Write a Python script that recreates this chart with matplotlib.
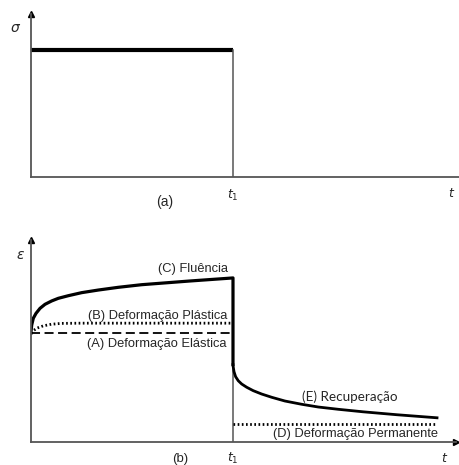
import matplotlib
matplotlib.use("Agg")
import matplotlib.pyplot as plt

# tempo normalizado (t1 = 1)
t1 = 1.0
t_end = 2.01

# (a) tensão aplicada
sigma0 = 1.0

# (b) deformação (unidade: deformação elástica = 1)
eps_A = 1.0
eps_B = 1.09
eps_D = 0.165

creep_t = [0.0, 0.0, 0.0035, 0.0114, 0.0248, 0.0446, 0.0693, 0.1025, 0.1351, 0.1847,
           0.251, 0.3332, 0.4322, 0.548, 0.787, 1.0, 1.0]
creep_e = [1.0, 1.012, 1.073, 1.135, 1.18, 1.226, 1.263, 1.294, 1.318, 1.342,
           1.37, 1.394, 1.419, 1.443, 1.477, 1.505, 0.71]

plast_t = [0.0, 0.01, 0.03, 0.06, 0.1, 0.15, 0.25, 1.0]
plast_e = [1.0, 1.02, 1.045, 1.065, 1.08, 1.088, 1.09, 1.09]

rec_t = [1.0, 1.001, 1.005, 1.013, 1.026, 1.043, 1.068, 1.1, 1.142, 1.192,
         1.257, 1.34, 1.422, 1.521, 1.644, 1.812, 2.01]
rec_e = [0.71, 0.691, 0.645, 0.599, 0.562, 0.532, 0.502, 0.471, 0.44, 0.41,
         0.376, 0.346, 0.321, 0.3, 0.277, 0.25, 0.222]

W, H = 459, 465
fig = plt.figure(figsize=(W / 100, H / 100), dpi=100)
fig.patch.set_facecolor("white")

axis_col = "#555555"
txt_col = "#262626"
lab_font = ["Liberation Sans", "DejaVu Sans"]


def px_axes(x0, y0, x1, y1):
    return fig.add_axes([x0 / W, 1 - y1 / H, (x1 - x0) / W, (y1 - y0) / H])


def style(ax, xarrow=True):
    for s in ["top", "right"]:
        ax.spines[s].set_visible(False)
    for s in ["left", "bottom"]:
        ax.spines[s].set_color(axis_col)
        ax.spines[s].set_linewidth(1.3)
    ax.set_xticks([])
    ax.set_yticks([])
    ax.patch.set_alpha(0)
    ax.plot([0], [1], marker="^", color="black", ms=5, transform=ax.transAxes, clip_on=False)
    if xarrow:
        ax.plot([1], [0], marker=">", color="black", ms=5, transform=ax.transAxes, clip_on=False)


# ---------- (a) ----------
ax1 = px_axes(31, 14, 459, 177)
ax1.set_xlim(0, 2.119)
ax1.set_ylim(0, 1.283)
style(ax1, xarrow=False)
ax1.plot([0, t1], [sigma0, sigma0], color="black", lw=3, solid_capstyle="butt")
ax1.plot([t1, t1], [0, sigma0], color=axis_col, lw=1.1)
ax1.text(-0.074, 1.175, r"$\sigma$", fontsize=10, color=txt_col, ha="center", va="center", clip_on=False)
ax1.text(t1, -0.142, r"$t_1$", fontsize=9, color=txt_col, ha="center", va="center")
ax1.text(0.663, -0.197, "(a)", fontsize=10, color=txt_col, ha="center", va="center", family=lab_font)
ax1.text(2.084, -0.126, r"$t$", fontsize=9, color=txt_col, ha="center", va="center")

# ---------- (b) ----------
ax2 = px_axes(31, 240, 456, 442)
ax2.set_xlim(0, 2.104)
ax2.set_ylim(0, 1.853)
style(ax2)
ax2.plot([t1, t1], [0, 1.50], color=axis_col, lw=1.1)
ax2.plot([0, t1], [eps_A, eps_A], color="black", lw=1.3, dashes=(5, 2.5))
ax2.plot(plast_t, plast_e, color="black", lw=2, linestyle=(0, (0.6, 0.9)))
ax2.plot(creep_t, creep_e, color="black", lw=2.3, solid_joinstyle="round")
ax2.plot(rec_t, rec_e, color="black", lw=2.0, solid_joinstyle="round")
ax2.plot([t1, t_end], [eps_D, eps_D], color="black", lw=2, linestyle=(0, (0.6, 0.9)))

ax2.text(0.975, 1.587, "(C) Fluência", fontsize=9.3, color=txt_col, ha="right", va="center", family=lab_font)
ax2.text(0.970, 1.156, "(B) Deformação Plástica", fontsize=9.3, color=txt_col, ha="right", va="center", family=lab_font)
ax2.text(0.970, 0.899, "(A) Deformação Elástica", fontsize=9.3, color=txt_col, ha="right", va="center", family=lab_font)
ax2.text(1.342, 0.413, "(E) Recuperação", fontsize=9.7, color=txt_col, ha="left", va="center", family=["Lato", "DejaVu Sans"])
ax2.text(2.015, 0.073, "(D) Deformação Permanente", fontsize=9.3, color=txt_col, ha="right", va="center", family=lab_font)
ax2.text(-0.054, 1.716, r"$\varepsilon$", fontsize=10, color=txt_col, ha="center", va="center", clip_on=False)
ax2.text(t1, -0.147, r"$t_1$", fontsize=9, color=txt_col, ha="center", va="center", clip_on=False)
ax2.text(2.05, -0.147, r"$t$", fontsize=9, color=txt_col, ha="center", va="center", clip_on=False)
ax2.text(0.738, -0.155, "(b)", fontsize=9.5, color=txt_col, ha="center", va="center", family=lab_font, clip_on=False)

fig.savefig("out.png", dpi=100, facecolor="white")
